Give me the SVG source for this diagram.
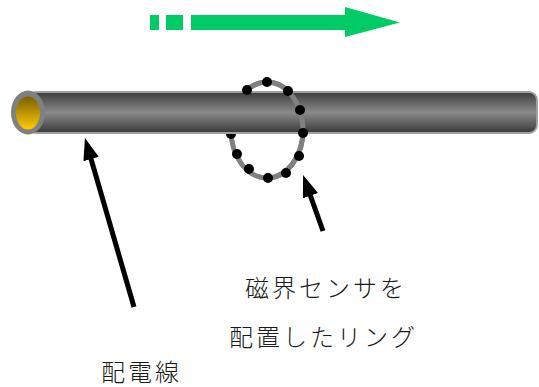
<svg xmlns="http://www.w3.org/2000/svg" width="539" height="387" viewBox="0 0 539 387">
  <defs>
    <linearGradient id="pipeShade" x1="0" y1="0" x2="0" y2="1">
      <stop offset="0" stop-color="#3c3c3c"/>
      <stop offset="0.5" stop-color="#8a8a8a"/>
      <stop offset="1" stop-color="#383838"/>
    </linearGradient>
    <linearGradient id="coreShade" x1="0" y1="0" x2="0" y2="1">
      <stop offset="0" stop-color="#7a6000"/>
      <stop offset="1" stop-color="#ffcc00"/>
    </linearGradient>
    <marker id="head" viewBox="0 0 22 16" refX="10" refY="8" markerWidth="22" markerHeight="16" markerUnits="userSpaceOnUse" orient="auto">
      <path d="M0,0 L22,8 L0,16 z" fill="#000"/>
    </marker>
  </defs>
  <style>
    .ring { fill: none; stroke: #808080; stroke-width: 5; }
    .dot { fill: #000; }
    .pointer { stroke: #000; stroke-width: 5; fill: none; marker-end: url(#head); }
    .label { font-family: "Noto Sans CJK JP", "Noto Sans CJK SC", sans-serif; font-size: 24px; font-weight: 300; fill: #1a1a1a; letter-spacing: 3px; }
  </style>

  <!-- current direction arrow -->
  <g id="flow-arrow" fill="#00cc66">
    <rect x="150" y="15" width="9" height="15"/>
    <rect x="166" y="15" width="17" height="15"/>
    <rect x="191" y="15" width="156" height="15"/>
    <path d="M345,7 L400,22.5 L345,37 z"/>
  </g>

  <!-- ring: back part (behind the conductor) -->
  <g id="ring-back">
    <ellipse class="ring" cx="267" cy="130" rx="36" ry="48"/>
    <circle class="dot" cx="231" cy="134" r="5"/>
  </g>

  <!-- conductor -->
  <g id="conductor">
    <rect x="28" y="92" width="509" height="41" rx="8" fill="url(#pipeShade)" stroke="#a0a0a0" stroke-width="2"/>
    <ellipse cx="28" cy="112.5" rx="17" ry="22" fill="#808080"/>
    <ellipse cx="28" cy="113" rx="12" ry="16.5" fill="url(#coreShade)"/>
  </g>

  <!-- ring: front part with sensors -->
  <g id="sensor-ring">
    <path class="ring" d="M247,90 A36,48 0 1 1 267,178"/>
    <circle class="dot" cx="247" cy="90" r="5"/>
    <circle class="dot" cx="267" cy="82" r="5"/>
    <circle class="dot" cx="288" cy="91" r="5"/>
    <circle class="dot" cx="300" cy="110" r="5"/>
    <circle class="dot" cx="303" cy="133" r="5"/>
    <circle class="dot" cx="299" cy="156" r="5"/>
    <circle class="dot" cx="286" cy="173" r="5"/>
    <circle class="dot" cx="268" cy="178" r="5"/>
    <circle class="dot" cx="249" cy="169" r="5"/>
    <circle class="dot" cx="237" cy="154" r="5"/>
  </g>

  <!-- pointers -->
  <g id="connectors">
    <line class="pointer" x1="134" y1="307" x2="88.3" y2="149.5"/>
    <line class="pointer" x1="323" y1="231" x2="307.1" y2="186.3"/>
  </g>

  <!-- labels -->
  <g id="label-ring">
    <text class="label" x="245" y="297">磁界センサを</text>
    <text class="label" x="229" y="346">配置したリング</text>
  </g>
  <g id="label-conductor">
    <text class="label" x="101" y="381">配電線</text>
  </g>
</svg>
